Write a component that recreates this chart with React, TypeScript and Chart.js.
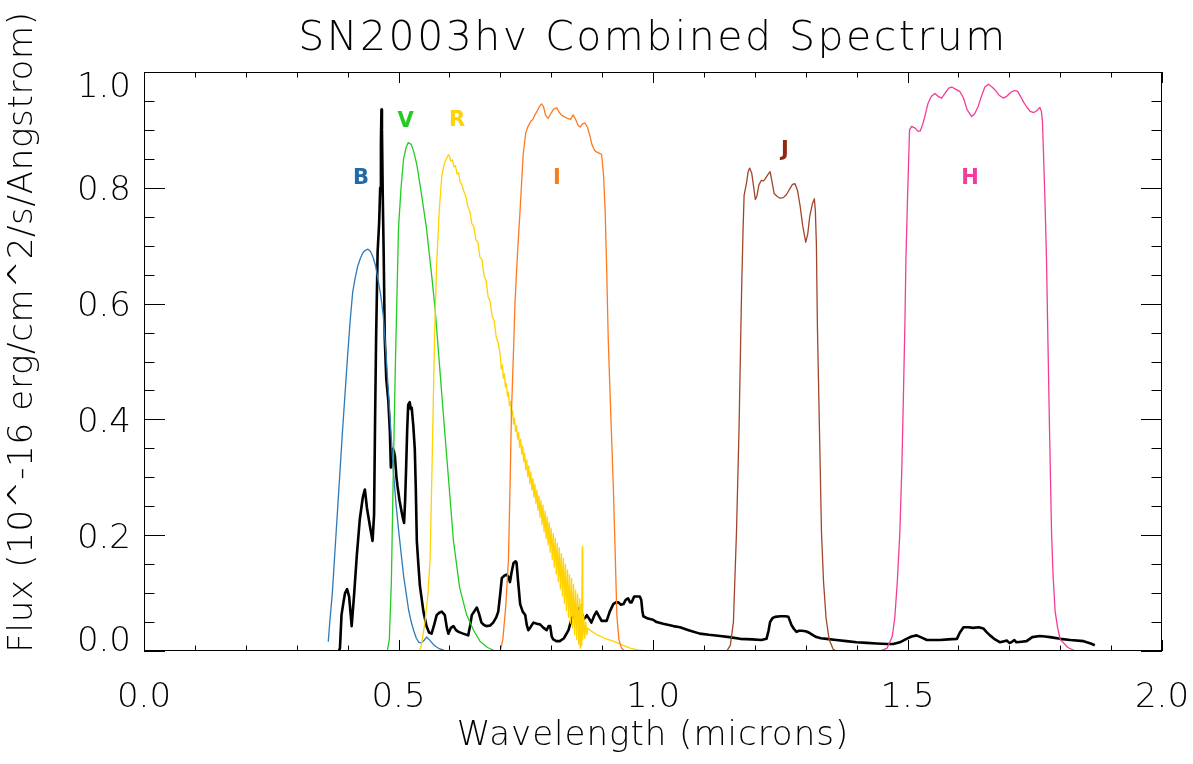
import React, { useEffect, useRef } from "react";
import { Chart, registerables } from "chart.js";

Chart.register(...registerables);

// ---- Filter transmission curves (scaled), wavelength in microns ----
const B_WAVE = [0.362, 0.365, 0.37, 0.375, 0.38, 0.385, 0.39, 0.395, 0.40, 0.405, 0.41, 0.415, 0.42, 0.425, 0.43, 0.435, 0.44, 0.445, 0.45, 0.455, 0.46, 0.465, 0.47, 0.475, 0.48, 0.485, 0.49, 0.495, 0.50, 0.505, 0.51, 0.515, 0.52, 0.525, 0.53, 0.535, 0.54, 0.545, 0.55, 0.555, 0.56, 0.565, 0.57, 0.575, 0.58, 0.59, 0.597];
const B_FLUX = [0.016, 0.05, 0.10, 0.17, 0.24, 0.31, 0.38, 0.445, 0.51, 0.57, 0.62, 0.645, 0.665, 0.678, 0.688, 0.692, 0.694, 0.69, 0.68, 0.665, 0.64, 0.615, 0.58, 0.52, 0.45, 0.38, 0.31, 0.255, 0.21, 0.17, 0.13, 0.10, 0.07, 0.05, 0.035, 0.022, 0.015, 0.014, 0.018, 0.024, 0.02, 0.015, 0.01, 0.007, 0.004, 0.001, 0.0];

const V_WAVE = [0.443, 0.46, 0.478, 0.482, 0.486, 0.49, 0.494, 0.50, 0.505, 0.51, 0.515, 0.519, 0.525, 0.53, 0.536, 0.545, 0.555, 0.565, 0.572, 0.58, 0.588, 0.598, 0.608, 0.62, 0.634, 0.648, 0.66, 0.675, 0.69, 0.705];
const V_FLUX = [0.0, 0.0, 0.0, 0.02, 0.12, 0.32, 0.5, 0.73, 0.80, 0.85, 0.87, 0.878, 0.875, 0.862, 0.84, 0.79, 0.73, 0.65, 0.59, 0.50, 0.41, 0.30, 0.19, 0.11, 0.062, 0.035, 0.017, 0.006, 0.0, 0.0];

// R band: smooth rise, then increasingly noisy red tail with a spike near 0.861
const R_WAVE = [0.535, 0.541, 0.545, 0.552, 0.558, 0.562, 0.565, 0.568, 0.571, 0.575, 0.58, 0.585, 0.59, 0.595, 0.598,
  0.600, 0.603, 0.606, 0.609, 0.612, 0.615, 0.618, 0.621, 0.624, 0.627, 0.630, 0.633, 0.636, 0.640, 0.644, 0.648, 0.652, 0.656, 0.660, 0.664, 0.668, 0.672, 0.676, 0.680, 0.684, 0.688, 0.692, 0.696,
  0.700, 0.702, 0.704, 0.706, 0.708, 0.710, 0.712, 0.714, 0.716, 0.718, 0.720, 0.722, 0.724, 0.726, 0.728, 0.730, 0.732, 0.734, 0.736, 0.738, 0.740, 0.742, 0.744, 0.746, 0.748, 0.750, 0.752,
  0.754, 0.756, 0.758, 0.760, 0.762, 0.764, 0.766, 0.768, 0.770, 0.772, 0.774, 0.776, 0.778, 0.780, 0.782, 0.784, 0.786, 0.788, 0.790, 0.792, 0.794, 0.796, 0.798, 0.800, 0.802, 0.804,
  0.806, 0.808, 0.810, 0.812, 0.814, 0.816, 0.818, 0.820, 0.822, 0.824, 0.826, 0.828, 0.830, 0.832, 0.834, 0.836, 0.838, 0.840, 0.842, 0.844, 0.846, 0.848, 0.850, 0.852, 0.854, 0.856, 0.857, 0.858, 0.859, 0.860, 0.861, 0.862, 0.864, 0.866, 0.868, 0.870, 0.872,
  0.876, 0.89, 0.905, 0.922, 0.94, 0.955, 0.97, 0.99, 1.0];
const R_FLUX = [0.0, 0.0, 0.01, 0.05, 0.10, 0.158, 0.28, 0.413, 0.55, 0.668, 0.76, 0.82, 0.842, 0.852, 0.857,
  0.855, 0.846, 0.848, 0.836, 0.838, 0.824, 0.826, 0.810, 0.806, 0.798, 0.790, 0.783, 0.768, 0.760, 0.738, 0.733, 0.710, 0.706, 0.680, 0.676, 0.648, 0.640, 0.612, 0.604, 0.578, 0.570, 0.542, 0.532,
  0.510, 0.487, 0.494, 0.471, 0.479, 0.456, 0.462, 0.440, 0.447, 0.424, 0.431, 0.408, 0.415, 0.392, 0.402, 0.379, 0.389, 0.366, 0.377, 0.352, 0.366, 0.340, 0.354, 0.327, 0.342, 0.313, 0.330,
  0.301, 0.320, 0.289, 0.309, 0.278, 0.298, 0.266, 0.288, 0.255, 0.278, 0.243, 0.268, 0.231, 0.260, 0.218, 0.252, 0.206, 0.242, 0.194, 0.232, 0.183, 0.222, 0.170, 0.212, 0.158, 0.203,
  0.145, 0.195, 0.133, 0.186, 0.120, 0.178, 0.107, 0.168, 0.095, 0.160, 0.082, 0.150, 0.070, 0.140, 0.058, 0.132, 0.048, 0.125, 0.040, 0.115, 0.028, 0.105, 0.020, 0.098, 0.012, 0.090, 0.005, 0.080, 0.010, 0.060, 0.180, 0.020, 0.060, 0.022, 0.050, 0.028, 0.040,
  0.036, 0.028, 0.022, 0.017, 0.010, 0.005, 0.002, 0.0, 0.0];

const I_WAVE = [0.69, 0.70, 0.705, 0.711, 0.716, 0.719, 0.722, 0.726, 0.729, 0.734, 0.739, 0.745, 0.750, 0.755, 0.760, 0.764, 0.768, 0.774, 0.778, 0.781, 0.785, 0.789, 0.794, 0.799, 0.805, 0.811, 0.816, 0.821, 0.827, 0.832, 0.838, 0.843, 0.848, 0.853, 0.857, 0.861, 0.866, 0.871, 0.876, 0.880, 0.885, 0.889, 0.894, 0.899, 0.903, 0.906, 0.909, 0.912, 0.917, 0.922, 0.926, 0.929, 0.933, 0.938, 0.945, 1.005];
const I_FLUX = [0.0, 0.0, 0.02, 0.08, 0.158, 0.28, 0.413, 0.52, 0.604, 0.69, 0.763, 0.858, 0.895, 0.907, 0.915, 0.918, 0.926, 0.935, 0.942, 0.945, 0.94, 0.925, 0.920, 0.928, 0.936, 0.938, 0.93, 0.925, 0.922, 0.92, 0.918, 0.926, 0.918, 0.908, 0.905, 0.91, 0.912, 0.905, 0.89, 0.875, 0.865, 0.862, 0.860, 0.858, 0.82, 0.76, 0.66, 0.54, 0.41, 0.285, 0.16, 0.062, 0.02, 0.005, 0.0, 0.0];

const J_WAVE = [1.145, 1.152, 1.158, 1.164, 1.169, 1.174, 1.177, 1.179, 1.184, 1.187, 1.190, 1.194, 1.198, 1.201, 1.204, 1.208, 1.213, 1.217, 1.220, 1.225, 1.230, 1.234, 1.238, 1.244, 1.250, 1.256, 1.262, 1.268, 1.274, 1.279, 1.284, 1.289, 1.294, 1.300, 1.304, 1.308, 1.313, 1.317, 1.319, 1.321, 1.323, 1.327, 1.331, 1.335, 1.340, 1.346, 1.354, 1.36];
const J_FLUX = [0.0, 0.01, 0.05, 0.205, 0.383, 0.62, 0.73, 0.787, 0.81, 0.828, 0.834, 0.825, 0.80, 0.78, 0.785, 0.805, 0.813, 0.812, 0.815, 0.822, 0.828, 0.81, 0.79, 0.785, 0.782, 0.783, 0.788, 0.797, 0.806, 0.807, 0.795, 0.769, 0.735, 0.706, 0.72, 0.751, 0.772, 0.781, 0.76, 0.703, 0.561, 0.383, 0.205, 0.12, 0.057, 0.02, 0.003, 0.0];

const H_WAVE = [1.446, 1.46, 1.47, 1.475, 1.480, 1.485, 1.489, 1.492, 1.495, 1.497, 1.500, 1.502, 1.504, 1.508, 1.515, 1.520, 1.525, 1.530, 1.534, 1.540, 1.547, 1.554, 1.560, 1.567, 1.575, 1.581, 1.587, 1.595, 1.603, 1.610, 1.617, 1.626, 1.632, 1.639, 1.646, 1.652, 1.659, 1.665, 1.672, 1.680, 1.688, 1.695, 1.703, 1.710, 1.716, 1.722, 1.728, 1.734, 1.741, 1.748, 1.754, 1.760, 1.763, 1.765, 1.767, 1.770, 1.773, 1.776, 1.779, 1.783, 1.786, 1.790, 1.795, 1.80, 1.815, 1.83, 1.845];
const H_FLUX = [0.0, 0.005, 0.025, 0.057, 0.12, 0.205, 0.32, 0.442, 0.57, 0.68, 0.78, 0.84, 0.90, 0.906, 0.903, 0.898, 0.898, 0.91, 0.923, 0.945, 0.958, 0.963, 0.958, 0.955, 0.965, 0.972, 0.974, 0.970, 0.966, 0.955, 0.935, 0.923, 0.928, 0.941, 0.96, 0.974, 0.979, 0.975, 0.969, 0.96, 0.955, 0.958, 0.965, 0.968, 0.967, 0.958, 0.948, 0.94, 0.932, 0.93, 0.933, 0.939, 0.932, 0.917, 0.865, 0.78, 0.68, 0.53, 0.383, 0.205, 0.13, 0.069, 0.04, 0.02, 0.006, 0.0, 0.0];

// ---- Combined SN2003hv spectrum (10^-16 erg/cm^2/s/A) ----
const SN_WAVE = [0.383, 0.385, 0.388, 0.392, 0.395, 0.399, 0.403, 0.408, 0.413, 0.418, 0.424, 0.430, 0.434, 0.438, 0.444, 0.449, 0.452, 0.454, 0.456, 0.459, 0.462, 0.464, 0.4655, 0.4665, 0.4675, 0.469, 0.471, 0.473, 0.476, 0.480, 0.483, 0.485, 0.487, 0.489, 0.491, 0.493, 0.496, 0.498, 0.502, 0.506, 0.509, 0.511, 0.513, 0.515, 0.517, 0.519, 0.522, 0.524, 0.526, 0.529, 0.532, 0.534, 0.536, 0.539, 0.542, 0.549, 0.555, 0.560, 0.565, 0.570, 0.575, 0.580, 0.585, 0.591, 0.595, 0.598, 0.603, 0.608, 0.613, 0.618, 0.627, 0.637, 0.641, 0.644, 0.650, 0.654, 0.658, 0.663, 0.668, 0.673, 0.680, 0.686, 0.692, 0.696, 0.700, 0.703, 0.708, 0.712, 0.716, 0.719, 0.722, 0.726, 0.730, 0.732, 0.735, 0.739, 0.744, 0.749, 0.752, 0.755, 0.760, 0.765, 0.772, 0.778, 0.785, 0.791, 0.795, 0.798, 0.801, 0.804, 0.810, 0.817, 0.825, 0.834, 0.840, 0.847, 0.852, 0.857, 0.863, 0.867, 0.870, 0.875, 0.879, 0.885, 0.889, 0.894, 0.899, 0.909, 0.915, 0.922, 0.927, 0.932, 0.937, 0.942, 0.946, 0.951, 0.955, 0.958, 0.963, 0.968, 0.974, 0.977, 0.979, 0.981, 0.990, 1.000, 1.007, 1.020, 1.040, 1.053, 1.070, 1.092, 1.110, 1.132, 1.150, 1.171, 1.195, 1.213, 1.223, 1.227, 1.230, 1.235, 1.240, 1.250, 1.260, 1.266, 1.269, 1.272, 1.277, 1.282, 1.287, 1.292, 1.300, 1.308, 1.315, 1.321, 1.330, 1.341, 1.360, 1.380, 1.400, 1.420, 1.439, 1.460, 1.472, 1.485, 1.498, 1.508, 1.518, 1.528, 1.538, 1.550, 1.564, 1.580, 1.597, 1.603, 1.610, 1.620, 1.629, 1.640, 1.649, 1.655, 1.662, 1.672, 1.682, 1.690, 1.695, 1.700, 1.704, 1.710, 1.714, 1.724, 1.734, 1.745, 1.760, 1.770, 1.780, 1.800, 1.820, 1.846, 1.860, 1.868];
const SN_FLUX = [0.0, 0.005, 0.062, 0.085, 0.10, 0.107, 0.094, 0.043, 0.10, 0.164, 0.228, 0.266, 0.279, 0.247, 0.215, 0.19, 0.235, 0.40, 0.54, 0.69, 0.74, 0.80, 0.88, 0.935, 0.90, 0.79, 0.68, 0.54, 0.47, 0.432, 0.38, 0.317, 0.33, 0.349, 0.345, 0.336, 0.30, 0.285, 0.26, 0.241, 0.228, 0.221, 0.26, 0.317, 0.38, 0.425, 0.43, 0.418, 0.42, 0.39, 0.349, 0.28, 0.19, 0.15, 0.113, 0.068, 0.043, 0.032, 0.030, 0.045, 0.062, 0.066, 0.068, 0.062, 0.040, 0.030, 0.040, 0.043, 0.036, 0.033, 0.030, 0.027, 0.045, 0.062, 0.070, 0.075, 0.065, 0.049, 0.045, 0.043, 0.044, 0.049, 0.058, 0.068, 0.10, 0.126, 0.130, 0.132, 0.128, 0.119, 0.135, 0.152, 0.155, 0.152, 0.12, 0.081, 0.068, 0.062, 0.045, 0.036, 0.042, 0.049, 0.047, 0.046, 0.040, 0.036, 0.043, 0.043, 0.025, 0.020, 0.017, 0.017, 0.022, 0.036, 0.055, 0.068, 0.072, 0.075, 0.055, 0.058, 0.062, 0.055, 0.049, 0.062, 0.068, 0.060, 0.052, 0.052, 0.068, 0.081, 0.084, 0.084, 0.080, 0.081, 0.088, 0.091, 0.084, 0.084, 0.094, 0.094, 0.094, 0.088, 0.070, 0.060, 0.056, 0.054, 0.050, 0.047, 0.043, 0.041, 0.036, 0.030, 0.028, 0.026, 0.024, 0.021, 0.020, 0.019, 0.021, 0.035, 0.050, 0.057, 0.059, 0.060, 0.060, 0.059, 0.052, 0.045, 0.038, 0.033, 0.035, 0.035, 0.034, 0.031, 0.027, 0.024, 0.022, 0.021, 0.019, 0.017, 0.015, 0.014, 0.013, 0.012, 0.012, 0.015, 0.021, 0.025, 0.027, 0.023, 0.019, 0.019, 0.019, 0.020, 0.021, 0.032, 0.041, 0.041, 0.040, 0.041, 0.039, 0.033, 0.027, 0.020, 0.015, 0.017, 0.018, 0.014, 0.015, 0.019, 0.015, 0.016, 0.017, 0.024, 0.026, 0.025, 0.024, 0.021, 0.019, 0.017, 0.013, 0.010];

// ---- Filter name labels: name, wavelength, flux position, colour ----
const BAND_NAMES = ["B", "V", "R", "I", "J", "H"];
const BAND_LABEL_WAVE = [0.4263, 0.5138, 0.6149, 0.8114, 1.2593, 1.6228];
const BAND_LABEL_FLUX = [0.816, 0.9136, 0.9154, 0.8152, 0.8636, 0.8152];
const BAND_COLORS = ["#1f6aa8", "#22cc22", "#ffd200", "#ff7a1e", "#8e2a12", "#f23c98"];

// ---- Axis ticks ----
const X_TICKS = [0, 0.5, 1.0, 1.5, 2.0];
const X_TICK_LABELS = ["0.0", "0.5", "1.0", "1.5", "2.0"];
const Y_TICKS = [0, 0.2, 0.4, 0.6, 0.8, 1.0];
const Y_TICK_LABELS = ["0.0", "0.2", "0.4", "0.6", "0.8", "1.0"];

const TITLE = "SN2003hv Combined Spectrum";
const X_TITLE = "Wavelength (microns)";
const Y_TITLE = "Flux (10^-16 erg/cm^2/s/Angstrom)";

const FONT = "DejaVu Sans";

const pts = (xs: number[], ys: number[]) => xs.map((x, i) => ({ x, y: ys[i] }));

const curve = (data: { x: number; y: number }[], color: string, width: number) => ({
  data,
  showLine: true,
  borderColor: color,
  backgroundColor: color,
  borderWidth: width,
  pointRadius: 0,
  tension: 0,
  fill: false,
  borderJoinStyle: "round" as const,
});

// Frame, inward ticks, labels and titles in the style of an IDL plot
const framePlugin = {
  id: "idlFrame",
  afterDatasetsDraw(chart: any) {
    const { ctx, scales } = chart;
    ctx.save();
    ctx.textAlign = "center";
    ctx.textBaseline = "middle";
    ctx.font = `bold 21px ${FONT}`;
    BAND_NAMES.forEach((n, i) => {
      ctx.fillStyle = BAND_COLORS[i];
      ctx.fillText(n, scales.x.getPixelForValue(BAND_LABEL_WAVE[i]), scales.y.getPixelForValue(BAND_LABEL_FLUX[i]));
    });
    ctx.restore();
  },
  afterDraw(chart: any) {
    const { ctx, chartArea, scales } = chart;
    const { left, right, top, bottom } = chartArea;
    const xs = scales.x;
    const ys = scales.y;
    ctx.save();
    ctx.strokeStyle = "#000";
    ctx.lineWidth = 1;
    ctx.strokeRect(left + 0.5, top + 0.5, right - left - 1, bottom - top - 1);

    ctx.beginPath();
    // x ticks every 0.1, major every 0.5
    for (let k = 0; k <= 20; k++) {
      const v = k / 10;
      const px = Math.round(xs.getPixelForValue(v)) + 0.5;
      const len = k % 5 === 0 ? 11 : 5.5;
      ctx.moveTo(px, bottom);
      ctx.lineTo(px, bottom - len);
      ctx.moveTo(px, top);
      ctx.lineTo(px, top + len);
    }
    // y ticks every 0.05, major every 0.2
    for (let k = 0; k <= 20; k++) {
      const v = k / 20;
      const py = Math.round(ys.getPixelForValue(v)) + 0.5;
      const len = k % 4 === 0 ? 21 : 10.5;
      ctx.moveTo(left, py);
      ctx.lineTo(left + len, py);
      ctx.moveTo(right, py);
      ctx.lineTo(right - len, py);
    }
    ctx.stroke();

    ctx.fillStyle = "#000";
    ctx.font = `200 34px ${FONT}`;
    ctx.textBaseline = "alphabetic";
    ctx.textAlign = "center";
    X_TICKS.forEach((v, i) => {
      ctx.fillText(X_TICK_LABELS[i], xs.getPixelForValue(v), bottom + 56);
    });
    ctx.textAlign = "right";
    Y_TICKS.forEach((v, i) => {
      let base = ys.getPixelForValue(v) + 12.4;
      if (i === 0) base = bottom;
      if (i === Y_TICKS.length - 1) base = top + 25;
      ctx.fillText(Y_TICK_LABELS[i], left - 13, base);
    });

    const cx = (left + right) / 2;
    ctx.textAlign = "center";
    (ctx as any).letterSpacing = "1px";
    ctx.fillText(X_TITLE, cx, 745);

    ctx.save();
    ctx.translate(32, 332);
    ctx.rotate(-Math.PI / 2);
    (ctx as any).letterSpacing = "0.7px";
    ctx.fillText(Y_TITLE, 0, 0);
    ctx.restore();

    ctx.font = `200 41px ${FONT}`;
    (ctx as any).letterSpacing = "2.5px";
    ctx.fillText(TITLE, cx, 50);
    (ctx as any).letterSpacing = "0px";
    ctx.restore();
  },
};

export default function App() {
  const ref = useRef<HTMLCanvasElement | null>(null);

  useEffect(() => {
    if (!ref.current) return;
    const chart = new Chart(ref.current, {
      type: "scatter",
      data: {
        datasets: [
          curve(pts(H_WAVE, H_FLUX), BAND_COLORS[5], 1.3),
          curve(pts(J_WAVE, J_FLUX), "#a0452a", 1.3),
          curve(pts(I_WAVE, I_FLUX), BAND_COLORS[3], 1.3),
          curve(pts(R_WAVE, R_FLUX), BAND_COLORS[2], 1.3),
          curve(pts(V_WAVE, V_FLUX), BAND_COLORS[1], 1.3),
          curve(pts(B_WAVE, B_FLUX), "#2d7ab8", 1.3),
          curve(pts(SN_WAVE, SN_FLUX), "#000000", 2.6),
        ] as any,
      },
      options: {
        responsive: false,
        animation: false,
        devicePixelRatio: 1,
        layout: { padding: { left: 144, top: 72, right: 31, bottom: 113 } },
        plugins: { legend: { display: false }, tooltip: { enabled: false }, title: { display: false } },
        scales: {
          x: { type: "linear", min: 0, max: 2, display: false },
          y: { type: "linear", min: 0, max: 1, display: false },
        },
      },
      plugins: [framePlugin],
    });
    return () => chart.destroy();
  }, []);

  return (
    <div style={{ position: "fixed", left: 0, top: 0, width: 1193, height: 764, background: "#fff" }}>
      <canvas ref={ref} width={1193} height={764} />
    </div>
  );
}
